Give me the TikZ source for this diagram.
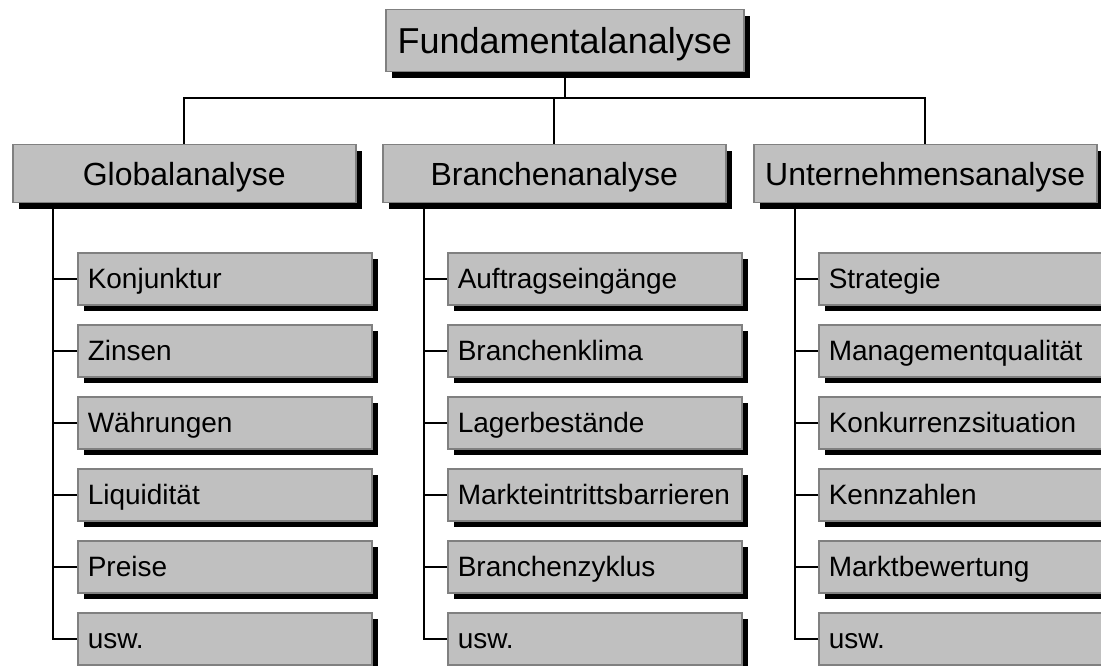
\documentclass[tikz,border=0pt]{standalone}
\usepackage{fontspec}
\setmainfont{Liberation Sans}
\usetikzlibrary{shadows}

\definecolor{boxfill}{HTML}{C0C0C0}
\definecolor{boxline}{HTML}{808080}

\tikzset{
  box/.style={draw=boxline, fill=boxfill, line width=1.5pt, text=black,
    drop shadow={shadow xshift=6pt, shadow yshift=-6pt, fill=black, opacity=1}},
  topbox/.style={box, anchor=north west, minimum width=358pt, minimum height=62pt,
    font=\fontsize{36}{40}\selectfont, text height=26pt, text depth=0pt},
  lvlbox/.style={box, anchor=north west, minimum width=343pt, minimum height=58pt,
    font=\fontsize{32}{36}\selectfont, text height=23pt, text depth=0pt},
  itembox/.style={box, anchor=north west, text width=274pt, inner xsep=10pt, align=left,
    minimum height=52pt, font=\fontsize{28}{32}\selectfont, text height=20pt, text depth=0pt},
  conn/.style={draw=black, line width=1.6pt}
}

\begin{document}
\begin{tikzpicture}[x=1pt, y=-1pt]
\useasboundingbox (0,0) rectangle (1101,666);

\def\xa{12};
\def\xb{382};
\def\xc{753};

\def\rowa{252};
\def\rowb{324};
\def\rowc{396};
\def\rowd{468};
\def\rowe{540};
\def\rowf{612};

\node[topbox] (fund) at (385, 9) {Fundamentalanalyse};

\node[lvlbox] (glob) at (\xa, 144) {Globalanalyse};
\node[lvlbox] (bran) at (\xb, 144) {Branchenanalyse};
\node[lvlbox] (unter) at (\xc, 144) {Unternehmensanalyse};

\coordinate (bus) at (0, 98);
\coordinate (gt) at (\xa+41, 0);
\coordinate (bt) at (\xb+42, 0);
\coordinate (ut) at (\xc+42, 0);

\node[itembox] (g1) at (\xa+65, \rowa) {Konjunktur};
\node[itembox] (g2) at (\xa+65, \rowb) {Zinsen};
\node[itembox] (g3) at (\xa+65, \rowc) {Währungen};
\node[itembox] (g4) at (\xa+65, \rowd) {Liquidität};
\node[itembox] (g5) at (\xa+65, \rowe) {Preise};
\node[itembox] (g6) at (\xa+65, \rowf) {usw.};

\node[itembox] (b1) at (\xb+65, \rowa) {Auftragseingänge};
\node[itembox] (b2) at (\xb+65, \rowb) {Branchenklima};
\node[itembox] (b3) at (\xb+65, \rowc) {Lagerbestände};
\node[itembox] (b4) at (\xb+65, \rowd) {Markteintrittsbarrieren};
\node[itembox] (b5) at (\xb+65, \rowe) {Branchenzyklus};
\node[itembox] (b6) at (\xb+65, \rowf) {usw.};

\node[itembox] (u1) at (\xc+65, \rowa) {Strategie};
\node[itembox] (u2) at (\xc+65, \rowb) {Managementqualität};
\node[itembox] (u3) at (\xc+65, \rowc) {Konkurrenzsituation};
\node[itembox] (u4) at (\xc+65, \rowd) {Kennzahlen};
\node[itembox] (u5) at (\xc+65, \rowe) {Marktbewertung};
\node[itembox] (u6) at (\xc+65, \rowf) {usw.};

% top level connectors
\draw[conn] (fund.south) -- (fund.south |- bus);
\draw[conn] (glob.north) -- (glob.north |- bus) -- (unter.north |- bus) -- (unter.north);
\draw[conn] (bran.north) -- (bran.north |- bus);

% trunks
\draw[conn] (glob.south -| gt) |- (g6.west);
\draw[conn] (bran.south -| bt) |- (b6.west);
\draw[conn] (unter.south -| ut) |- (u6.west);

\draw[conn] (g1.west) -- (g1.west -| gt);
\draw[conn] (g2.west) -- (g2.west -| gt);
\draw[conn] (g3.west) -- (g3.west -| gt);
\draw[conn] (g4.west) -- (g4.west -| gt);
\draw[conn] (g5.west) -- (g5.west -| gt);

\draw[conn] (b1.west) -- (b1.west -| bt);
\draw[conn] (b2.west) -- (b2.west -| bt);
\draw[conn] (b3.west) -- (b3.west -| bt);
\draw[conn] (b4.west) -- (b4.west -| bt);
\draw[conn] (b5.west) -- (b5.west -| bt);

\draw[conn] (u1.west) -- (u1.west -| ut);
\draw[conn] (u2.west) -- (u2.west -| ut);
\draw[conn] (u3.west) -- (u3.west -| ut);
\draw[conn] (u4.west) -- (u4.west -| ut);
\draw[conn] (u5.west) -- (u5.west -| ut);

\end{tikzpicture}
\end{document}
